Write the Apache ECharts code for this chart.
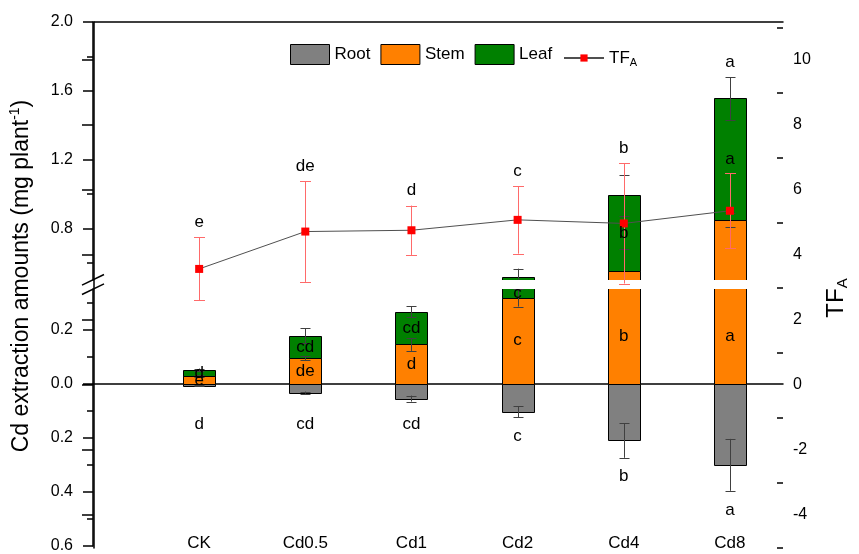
<!DOCTYPE html>
<html>
<head>
<meta charset="utf-8">
<script src="https://cdn.jsdelivr.net/npm/echarts@6/dist/echarts.min.js"></script>
<style>
  html, body { margin: 0; padding: 0; background: #fff; }
  #chart { width: 859px; height: 554px; }
</style>
</head>
<body>
<div id="chart"></div>
<script>
// Cd extraction amounts (mg plant^-1) per organ and translocation factor TF_A
const categories = ['CK', 'Cd0.5', 'Cd1', 'Cd2', 'Cd4', 'Cd8'];
const root    = [0.008, 0.033, 0.055, 0.104, 0.210, 0.300];
const rootErr = [0.002, 0.004, 0.011, 0.020, 0.064, 0.096];
const stem    = [0.028, 0.095, 0.145, 0.318, 0.550, 0.851];
const stemErr = [0.004, 0.008, 0.024, 0.033, 0.128, 0.040];
const leaf    = [0.023, 0.082, 0.121, 0.199, 0.442, 0.705];
const leafErr = [0.005, 0.028, 0.021, 0.049, 0.120, 0.124];
const tf      = [3.57, 4.72, 4.76, 5.08, 4.97, 5.36];
const tfErr   = [0.97, 1.55, 0.76, 1.04, 1.85, 1.15];

// significance letters
const rootLetters = ['d', 'cd', 'cd', 'c', 'b', 'a'];
const stemLetters = ['e', 'de', 'd', 'c', 'b', 'a'];
const leafLetters = ['d', 'cd', 'cd', 'c', 'b', 'a'];
const tfLetters   = ['e', 'de', 'd', 'c', 'b', 'a'];

// tick values of the broken left axis and the TF axis
const upperTicks = [0.8, 1.2, 1.6, 2.0];
const upperMinor = [0.6, 1.0, 1.4, 1.8];
const lowerTicks = [-0.6, -0.4, -0.2, 0, 0.2];
const lowerMinor = [-0.5, -0.3, -0.1, 0.1, 0.3];
const tfTicks = [-4, -2, 0, 2, 4, 6, 8, 10];
const tfMinor = [-5, -3, -1, 1, 3, 5, 7, 9, 11];

// axis ranges
const UPPER = [0.5, 2.0];
const LOWER = [-0.6, 0.35];
const TF_RANGE = [-5.02, 11.17];
const X_RANGE = [0, 6.5];

const FONT = '"Liberation Sans", Arial, sans-serif';
const BAR_W = 32;
const AX = { color: '#000', width: 1.5 };
const COLORS = { root: '#808080', stem: '#ff8000', leaf: '#008000', tf: '#ff0000' };

const xs = categories.map((_, i) => i + 1);

// [x, base, top] rows for stacked bars
const rootRows = xs.map((x, i) => [x, -root[i], 0]);
const stemRows = xs.map((x, i) => [x, 0, stem[i]]);
const leafRows = xs.map((x, i) => [x, stem[i], stem[i] + leaf[i]]);
// [x, low, high] rows for error bars
const rootErrRows = xs.map((x, i) => [x, -root[i] - rootErr[i], -root[i] + rootErr[i]]);
const stemErrRows = xs.map((x, i) => [x, stem[i] - stemErr[i], stem[i] + stemErr[i]]);
const leafErrRows = xs.map((x, i) => [x, stem[i] + leaf[i] - leafErr[i], stem[i] + leaf[i] + leafErr[i]]);
const tfErrRows = xs.map((x, i) => [x, tf[i] - tfErr[i], tf[i] + tfErr[i]]);

function barItem(params, api) {
  const x = api.value(0);
  const p0 = api.coord([x, api.value(1)]);
  const p1 = api.coord([x, api.value(2)]);
  const left = Math.round(p0[0] - BAR_W / 2) + 0.5;
  const y0 = Math.round(Math.min(p0[1], p1[1])) + 0.5;
  const y1 = Math.round(Math.max(p0[1], p1[1])) + 0.5;
  return {
    type: 'rect',
    shape: { x: left, y: y0, width: BAR_W, height: y1 - y0 },
    style: { fill: api.visual('color'), stroke: '#000', lineWidth: 1 }
  };
}

function errItem(color, cap) {
  return function (params, api) {
    const x = api.value(0);
    const lo = api.coord([x, api.value(1)]);
    const hi = api.coord([x, api.value(2)]);
    const cx = Math.round(lo[0]) + 0.5;
    const h = cap / 2;
    const st = { stroke: color, lineWidth: 1 };
    return {
      type: 'group',
      children: [
        { type: 'line', shape: { x1: cx, y1: hi[1], x2: cx, y2: lo[1] }, style: st },
        { type: 'line', shape: { x1: cx - h, y1: Math.round(hi[1]) + 0.5, x2: cx + h, y2: Math.round(hi[1]) + 0.5 }, style: st },
        { type: 'line', shape: { x1: cx - h, y1: Math.round(lo[1]) + 0.5, x2: cx + h, y2: Math.round(lo[1]) + 0.5 }, style: st }
      ]
    };
  };
}

function barSeries(name, color, xi, yi, rows) {
  return {
    name, type: 'custom', xAxisIndex: xi, yAxisIndex: yi, clip: true, z: 2,
    itemStyle: { color, borderColor: '#000', borderWidth: 1 },
    encode: { x: 0, y: [1, 2] },
    renderItem: barItem, data: rows
  };
}
function errSeries(xi, yi, rows, color, cap, z) {
  return {
    type: 'custom', xAxisIndex: xi, yAxisIndex: yi, clip: true, z: z, silent: true,
    encode: { x: 0, y: [1, 2] },
    renderItem: errItem(color, cap), data: rows
  };
}

const hiddenX = (g) => ({
  gridIndex: g, type: 'value', min: X_RANGE[0], max: X_RANGE[1], show: false
});
const tickOnlyY = (g, range, pos, values, len, inside) => ({
  gridIndex: g, type: 'value', min: range[0], max: range[1], position: pos,
  axisLine: { show: false }, axisLabel: { show: false }, splitLine: { show: false },
  axisTick: { show: true, inside: !!inside, length: len, customValues: values, lineStyle: AX }
});

const chart = echarts.init(document.getElementById('chart'), null, { renderer: 'canvas' });

const option = {
  animation: false,
  backgroundColor: '#fff',
  textStyle: { fontFamily: FONT, color: '#000' },
  grid: [
    { left: 93, right: 76, top: 22, height: 258 },   // upper panel 0.5 – 2.0
    { left: 93, right: 76, top: 289, height: 259 },  // lower panel -0.6 – 0.35
    { left: 93, right: 76, top: 22, height: 526 },   // TF_A scale
    { left: 93, right: 76, top: 22, height: 526 }    // frame and axis titles
  ],
  legend: [
    {
      left: 290, top: 44, padding: 0, itemWidth: 39, itemHeight: 20, itemGap: 10,
      textStyle: { fontSize: 17, color: '#000', fontFamily: FONT },
      data: [
        { name: 'Root', icon: 'rect', itemStyle: { borderColor: '#000', borderWidth: 1 } },
        { name: 'Stem', icon: 'rect', itemStyle: { borderColor: '#000', borderWidth: 1 } },
        { name: 'Leaf', icon: 'rect', itemStyle: { borderColor: '#000', borderWidth: 1 } }
      ]
    },
    {
      left: 563, top: 49.5, padding: 0, itemWidth: 40, itemHeight: 9,
      data: ['TF'],
      formatter: () => 'TF{sub|A}',
      textStyle: {
        fontSize: 17, color: '#000', fontFamily: FONT,
        rich: { sub: { fontSize: 11, fontFamily: FONT, color: '#000', verticalAlign: 'bottom', padding: [10, 0, 0, 0] } }
      }
    }
  ],
  xAxis: [
    hiddenX(0),
    {
      gridIndex: 1, type: 'value', min: X_RANGE[0], max: X_RANGE[1], position: 'bottom',
      axisLine: { show: false, onZero: false }, axisTick: { show: false }, splitLine: { show: false },
      axisLabel: {
        inside: true, margin: -6, fontSize: 17, color: '#000', fontFamily: FONT,
        customValues: xs, formatter: (v) => categories[Math.round(v) - 1] || ''
      }
    },
    hiddenX(2),
    {
      gridIndex: 3, type: 'value', min: 0, max: 1, position: 'top',
      axisLine: { show: true, onZero: false, lineStyle: AX },
      axisTick: { show: false }, axisLabel: { show: false }, splitLine: { show: false }
    },
    {
      // zero line of the lower panel
      gridIndex: 1, type: 'value', min: X_RANGE[0], max: X_RANGE[1], position: 'bottom',
      axisLine: { show: true, onZero: true, onZeroAxisIndex: 2, lineStyle: AX },
      axisTick: { show: false }, axisLabel: { show: false }, splitLine: { show: false }
    }
  ],
  yAxis: [
    {
      gridIndex: 0, type: 'value', min: UPPER[0], max: UPPER[1], position: 'left',
      axisLine: { show: true, lineStyle: AX },
      axisTick: { show: true, length: 10, customValues: upperTicks, lineStyle: AX },
      axisLabel: { customValues: upperTicks, margin: 20, fontSize: 16, color: '#000', fontFamily: FONT,
        formatter: (v) => v.toFixed(1) },
      splitLine: { show: false }
    },
    tickOnlyY(0, UPPER, 'left', upperMinor, 6),
    {
      gridIndex: 1, type: 'value', min: LOWER[0], max: LOWER[1], position: 'left',
      axisLine: { show: true, lineStyle: AX },
      axisTick: { show: true, length: 10, customValues: lowerTicks, lineStyle: AX },
      axisLabel: { customValues: lowerTicks, margin: 20, fontSize: 16, color: '#000', fontFamily: FONT,
        formatter: (v) => Math.abs(v).toFixed(1) },
      splitLine: { show: false }
    },
    tickOnlyY(1, LOWER, 'left', lowerMinor, 6),
    {
      gridIndex: 2, type: 'value', min: TF_RANGE[0], max: TF_RANGE[1], position: 'right',
      axisLine: { show: false },
      axisTick: { show: true, inside: true, length: 11, customValues: tfTicks, lineStyle: AX },
      axisLabel: { customValues: tfTicks, margin: 10, fontSize: 16, color: '#000', fontFamily: FONT },
      splitLine: { show: false }
    },
    tickOnlyY(2, TF_RANGE, 'right', tfMinor, 6, true),
    {
      gridIndex: 3, type: 'value', min: 0, max: 1, position: 'right',
      axisLine: { show: true, lineStyle: AX },
      axisTick: { show: false }, axisLabel: { show: false }, splitLine: { show: false },
      name: 'TF{sub|A}', nameLocation: 'middle', nameRotate: 90, nameGap: 40,
      nameTextStyle: {
        fontSize: 24, color: '#000', fontFamily: FONT, padding: [0, 26, 0, 0],
        rich: { sub: { fontSize: 15, fontFamily: FONT, color: '#000', verticalAlign: 'bottom', padding: [12, 0, 0, 0] } }
      }
    },
    {
      gridIndex: 3, type: 'value', min: 0, max: 1, position: 'left',
      axisLine: { show: false }, axisTick: { show: false }, axisLabel: { show: false }, splitLine: { show: false },
      name: 'Cd extraction amounts (mg plant{sup|-1})', nameLocation: 'middle', nameRotate: 90, nameGap: 59,
      nameTextStyle: {
        fontSize: 23, color: '#000', fontFamily: FONT, padding: [0, 0, 0, 18], lineHeight: 27,
        rich: { sup: { fontSize: 14, fontFamily: FONT, color: '#000', verticalAlign: 'top', lineHeight: 14 } }
      }
    }
  ],
  series: [
    // lower panel
    barSeries('Root', COLORS.root, 1, 2, rootRows),
    barSeries('Stem', COLORS.stem, 1, 2, stemRows),
    barSeries('Leaf', COLORS.leaf, 1, 2, leafRows),
    // upper panel
    barSeries('Stem', COLORS.stem, 0, 0, stemRows),
    barSeries('Leaf', COLORS.leaf, 0, 0, leafRows),
    // error bars of the organ amounts
    errSeries(1, 2, rootErrRows, '#404040', 10, 3),
    errSeries(1, 2, stemErrRows, '#404040', 10, 3),
    errSeries(1, 2, leafErrRows, '#404040', 10, 3),
    errSeries(0, 0, stemErrRows, '#404040', 10, 3),
    errSeries(0, 0, leafErrRows, '#404040', 10, 3),
    // TF_A
    errSeries(2, 4, tfErrRows, '#ff6a6a', 11, 4),
    {
      name: 'TF', type: 'line', xAxisIndex: 2, yAxisIndex: 4, z: 5,
      symbol: 'rect', symbolSize: 8,
      itemStyle: { color: COLORS.tf },
      lineStyle: { color: '#505050', width: 1 },
      data: xs.map((x, i) => [x, tf[i]])
    }
  ]
};

chart.setOption(option);

// letter annotations, placed through the axes' own scales
function toPx(g, x, y) { return chart.convertToPixel({ gridIndex: g }, [x, y]); }

function segLabelPos(x, base, top) {
  let best = null;
  [[0, UPPER], [1, LOWER]].forEach(([g, r]) => {
    const a = Math.max(base, r[0]);
    const b = Math.min(top, r[1]);
    if (b <= a) return;
    const pa = toPx(g, x, a);
    const pb = toPx(g, x, b);
    const len = pa[1] - pb[1];
    if (!best || len > best.len) best = { len, x: pa[0], y: (pa[1] + pb[1]) / 2 };
  });
  return best;
}
function amountPx(x, v) {
  if (v >= UPPER[0]) return toPx(0, x, Math.min(v, UPPER[1]))[1];
  return toPx(1, x, Math.min(v, LOWER[1]))[1];
}
function letter(text, x, y) {
  return {
    type: 'text', x: x, y: y, z: 100, silent: true,
    style: { text, fontSize: 17, fontFamily: FONT, fill: '#000',
      align: 'center', verticalAlign: 'middle', textAlign: 'center', textVerticalAlign: 'middle' }
  };
}

const graphics = [];
xs.forEach((x, i) => {
  const s = segLabelPos(x, 0, stem[i]);
  if (s) graphics.push(letter(stemLetters[i], s.x, s.y));
  const l = segLabelPos(x, stem[i], stem[i] + leaf[i]);
  if (l) graphics.push(letter(leafLetters[i], l.x, l.y));

  const zeroY = toPx(1, x, 0)[1];
  const rootEnd = toPx(1, x, -(root[i] + rootErr[i]));
  graphics.push(letter(rootLetters[i], rootEnd[0], Math.max(rootEnd[1] + 19, zeroY + 41)));

  const tfTop = toPx(2, x, tf[i] + tfErr[i]);
  const barTop = amountPx(x, stem[i] + leaf[i] + leafErr[i]);
  graphics.push(letter(tfLetters[i], tfTop[0], Math.min(tfTop[1], barTop) - 15));
});

// break marks on the left axis
const brkTop = toPx(0, X_RANGE[0], UPPER[0]);
const brkBot = toPx(1, X_RANGE[0], LOWER[1]);
const bx = brkTop[0];
const by = (brkTop[1] + brkBot[1]) / 2;
[-4.7, 4.7].forEach((d) => {
  graphics.push({
    type: 'line', z: 100, silent: true,
    shape: { x1: bx - 11, y1: by + d + 5.3, x2: bx + 11, y2: by + d - 5.3 },
    style: { stroke: '#000', lineWidth: 1.5 }
  });
});

chart.setOption({ graphic: graphics });
</script>
</body>
</html>
